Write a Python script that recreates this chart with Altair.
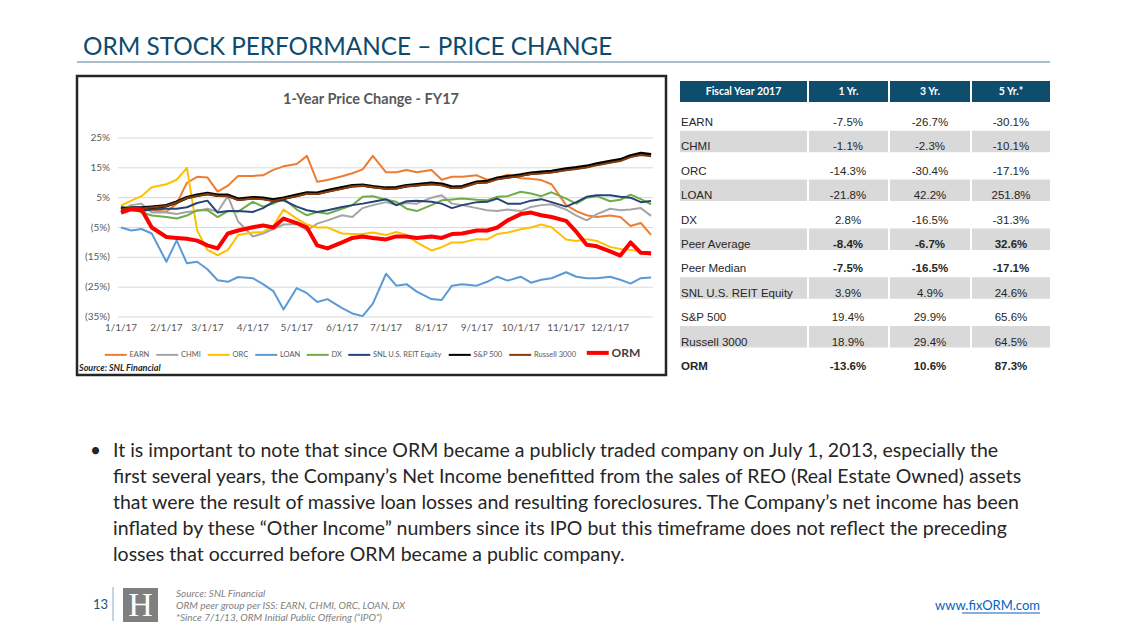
import altair as alt
import pandas as pd

# ---------------- data ----------------
dates = [f"2017-{m:02d}-{d:02d}" for m in range(1, 13) for d in (1, 8, 15, 22)] + ["2017-12-29"]

series_names = ["EARN", "CHMI", "ORC", "LOAN", "DX", "SNL U.S. REIT Equity", "S&P 500", "Russell 3000", "ORM"]
series_colors = ["#ED7D31", "#A5A5A5", "#FFC000", "#5B9BD5", "#70AD47", "#264478", "#000000", "#843C0C", "#FF0000"]

earn = [0.5, 1.2, 1.5, 0.8, 0.3, 3.0, 10.0, 12.0, 11.8, 7.0, 9.0, 12.3, 12.3, 12.5, 14.3, 15.5,
        16.3, 19.0, 10.3, 10.9, 12.2, 13.2, 14.5, 19.0, 13.5, 13.5, 14.3, 13.5, 14.3, 11.0, 12.0, 12.0,
        12.5, 11.0, 11.5, 12.7, 11.5, 11.3, 10.9, 9.5, 2.5, 0.5, -0.9, -1.5, -1.0, -1.5, -4.5, -3.5, -7.5]
chmi = [1.0, 2.5, 3.0, 0.0, 0.0, -0.5, 0.2, 0.5, 1.3, 0.3, 5.5, -3.0, -8.0, -7.0, -5.5, -4.0,
        -3.8, -6.0, -3.7, -2.6, -0.9, -1.5, 1.5, 2.5, 3.5, 2.5, 3.2, 3.0, 5.0, 5.8, 3.0, 2.5,
        1.5, 0.8, 0.5, 1.0, 0.5, 1.9, 2.5, 2.8, 1.0, -1.0, -2.6, -0.5, 1.3, 0.8, 1.0, 1.5, -1.1]
orc = [2.3, 4.0, 5.5, 8.5, 9.5, 11.0, 15.0, -6.0, -12.5, -14.3, -12.5, -7.5, -6.7, -6.5, -4.5, 1.0,
       -2.0, -4.0, -5.0, -5.0, -7.0, -7.2, -7.2, -6.7, -7.5, -6.5, -7.5, -10.0, -12.7, -11.6, -10.0, -10.0,
       -8.9, -9.0, -7.2, -6.7, -5.6, -5.0, -4.0, -4.9, -9.0, -9.5, -8.9, -9.5, -11.5, -12.2, -12.5, -13.0, -14.3]
loan = [-5.0, -6.0, -5.5, -7.0, -16.5, -9.3, -17.0, -16.5, -19.0, -22.7, -23.2, -21.6, -22.0, -24.0, -26.3, -32.5,
        -25.3, -27.0, -30.0, -29.0, -32.0, -33.8, -34.7, -30.5, -20.5, -24.5, -24.0, -26.5, -29.0, -29.3, -24.5, -24.0,
        -24.5, -23.2, -21.5, -22.8, -21.5, -23.5, -22.5, -22.0, -20.0, -21.5, -22.0, -22.0, -21.5, -22.5, -23.8, -22.0, -21.8]
dx = [2.0, 1.5, 0.0, -1.0, -1.5, -2.0, -1.0, 0.8, 0.8, -1.5, 0.5, 0.3, 3.6, 2.0, 3.0, 4.7,
      1.0, -0.9, 0.2, -0.4, 1.3, 2.5, 5.3, 5.5, 4.3, 3.6, 1.3, 0.5, 2.5, 4.1, 4.4, 4.7,
      4.3, 4.1, 5.3, 5.5, 7.0, 6.4, 5.5, 6.8, 4.7, 3.0, 5.0, 5.5, 3.8, 4.3, 6.0, 4.5, 2.8]
snl = [1.9, 0.8, 0.5, 1.0, 1.3, 1.3, 1.8, 3.2, 4.0, 0.0, 0.5, 0.5, 0.2, 1.5, 3.6, 4.1,
       2.0, 0.8, 0.2, 0.8, 1.9, 2.5, 3.0, 3.6, 4.5, 2.5, 3.8, 4.0, 3.6, 3.0, 1.5, 2.5,
       3.5, 3.6, 4.7, 3.0, 3.0, 4.0, 4.5, 3.5, 2.0, 3.5, 5.3, 5.8, 5.8, 5.3, 5.0, 3.5, 3.9]
sp500 = [1.0, 1.5, 1.5, 1.8, 2.3, 3.5, 5.0, 5.8, 6.4, 5.8, 5.8, 4.5, 5.0, 4.8, 4.2, 4.8,
         5.8, 6.6, 6.5, 7.3, 8.3, 9.0, 9.2, 8.7, 8.2, 8.3, 9.0, 9.3, 9.8, 9.5, 8.5, 8.7,
         10.2, 10.4, 11.5, 12.0, 12.6, 13.2, 13.5, 13.8, 14.6, 15.0, 15.5, 16.3, 17.1, 17.7, 19.0, 19.8, 19.4]
russell = [1.0, 1.6, 1.4, 1.7, 2.2, 3.4, 4.9, 5.6, 6.2, 5.6, 5.5, 4.2, 4.7, 4.5, 3.9, 4.6,
           5.5, 6.3, 6.2, 7.0, 8.0, 8.8, 9.0, 8.5, 8.0, 8.1, 8.8, 9.1, 9.5, 9.2, 8.2, 8.4,
           9.9, 10.1, 11.2, 11.7, 12.3, 12.9, 13.1, 13.4, 14.2, 14.6, 15.1, 15.9, 16.7, 17.3, 18.6, 19.3, 18.9]
orm = [0.0, 1.2, 1.0, -5.0, -8.2, -8.5, -8.8, -9.4, -11.0, -12.0, -7.0, -6.0, -4.9, -4.3, -5.0, -2.0,
       -3.5, -5.0, -11.0, -12.0, -10.0, -8.5, -8.0, -8.5, -9.0, -8.0, -8.0, -8.5, -8.0, -8.5, -7.2, -7.0,
       -6.0, -6.0, -5.0, -2.6, -0.5, 0.0, -0.9, -1.5, -2.8, -6.5, -10.8, -11.3, -13.0, -14.4, -10.0, -13.5, -13.6]

y_tick_values = [25, 15, 5, -5, -15, -25, -35]
y_tick_labels = ["25%", "15%", "5%", "(5%)", "(15%)", "(25%)", "(35%)"]
x_tick_dates = [f"2017-{m:02d}-01" for m in range(1, 13)]
x_tick_labels = [f"{m}/1/17" for m in range(1, 13)]

table_labels = ["EARN", "CHMI", "ORC", "LOAN", "DX", "Peer Average", "Peer Median",
                "SNL U.S. REIT Equity", "S&P 500", "Russell 3000", "ORM"]
yr1 = ["-7.5%", "-1.1%", "-14.3%", "-21.8%", "2.8%", "-8.4%", "-7.5%", "3.9%", "19.4%", "18.9%", "-13.6%"]
yr3 = ["-26.7%", "-2.3%", "-30.4%", "42.2%", "-16.5%", "-6.7%", "-16.5%", "4.9%", "29.9%", "29.4%", "10.6%"]
yr5 = ["-30.1%", "-10.1%", "-17.1%", "251.8%", "-31.3%", "32.6%", "-17.1%", "24.6%", "65.6%", "64.5%", "87.3%"]
table_headers = ["Fiscal Year 2017", "1 Yr.", "3 Yr.", "5 Yr.*"]

bullet_lines = [
    "It is important to note that since ORM became a publicly traded company on July 1, 2013, especially the",
    "first several years, the Company\u2019s Net Income benefitted from the sales of REO (Real Estate Owned) assets",
    "that were the result of massive loan losses and resulting foreclosures. The Company\u2019s net income has been",
    "inflated by these \u201cOther Income\u201d numbers since its IPO but this timeframe does not reflect the preceding",
    "losses that occurred before ORM became a public company.",
]
footer_notes = [
    "Source: SNL Financial",
    "ORM peer group per ISS: EARN, CHMI, ORC, LOAN, DX",
    "*Since 7/1/13, ORM Initial Public Offering (\u201cIPO\u201d)",
]

# ---------------- frames ----------------
all_values = [earn, chmi, orc, loan, dx, snl, sp500, russell, orm]
rows = []
for name, vals in zip(series_names, all_values):
    for d, v in zip(dates, vals):
        rows.append({"series": name, "date": d, "value": v})
lines_df = pd.DataFrame(rows)

SANS = "Lato"
ARIAL = "Liberation Sans"

x_scale = alt.Scale(domain=[alt.DateTime(year=2017, month=1, date=1, utc=True),
                            alt.DateTime(year=2017, month=12, date=31, utc=True)],
                    range=[121, 654], nice=False)
y_scale = alt.Scale(domain=[-35, 25], range=[317, 138], nice=False, zero=False)

legend = alt.Legend(
    orient="none", legendX=112, legendY=349, direction="horizontal", title=None,
    symbolType="stroke", symbolSize=484,
    symbolStrokeWidth={"expr": "datum.value == 'ORM' ? 4 : 2"},
    labelFont=SANS,
    labelFontSize={"expr": "datum.value == 'ORM' ? 12 : 7.5"},
    labelFontWeight={"expr": "datum.value == 'ORM' ? 'bold' : 'normal'"},
    labelColor={"expr": "datum.value == 'ORM' ? '#404040' : '#595959'"},
    labelOffset=10, columnPadding=1.5, padding=0, labelLimit=200,
)
color_enc = alt.Color("series:N", scale=alt.Scale(domain=series_names, range=series_colors), legend=legend)


def line_layer(names, width):
    return alt.Chart(lines_df).transform_filter(
        alt.FieldOneOfPredicate(field="series", oneOf=names)
    ).mark_line(strokeWidth=width, strokeJoin="round").encode(
        x=alt.X("date:T", scale=x_scale, axis=None),
        y=alt.Y("value:Q", scale=y_scale, axis=None),
        color=color_enc,
        detail="series:N",
    )


def static_text(s, x, y, size, color, font=SANS, weight="normal", style="normal", align="left"):
    return alt.Chart(pd.DataFrame({"label": [s]})).mark_text(
        font=font, fontSize=size, color=color, fontWeight=weight, fontStyle=style,
        align=align, baseline="middle",
    ).encode(text="label:N", x=alt.value(x), y=alt.value(y))


def box(x, x2, y, y2, **kw):
    return alt.Chart(pd.DataFrame({"k": [0]})).mark_rect(**kw).encode(
        x=alt.value(x), x2=alt.value(x2), y=alt.value(y), y2=alt.value(y2))


def hline(x, x2, y, color, w):
    return alt.Chart(pd.DataFrame({"k": [0]})).mark_rule(color=color, strokeWidth=w).encode(
        x=alt.value(x), x2=alt.value(x2), y=alt.value(y))


def vline(x, y, y2, color, w):
    return alt.Chart(pd.DataFrame({"k": [0]})).mark_rule(color=color, strokeWidth=w).encode(
        x=alt.value(x), y=alt.value(y), y2=alt.value(y2))


layers = []

# slide title
layers.append(static_text("ORM STOCK PERFORMANCE \u2013 PRICE CHANGE", 83, 48, 24.3, "#0E4A6E"))
layers.append(hline(77, 1050, 62, "#8EA9BB", 1.5))

# chart frame
layers.append(box(77, 666, 76, 375, fill="white", stroke="#262626", strokeWidth=2.5))
layers.append(static_text("1-Year Price Change - FY17", 371, 100, 14.5, "#595959", weight="bold", align="center"))

# gridlines & axis labels
ytick_df = pd.DataFrame({"v": y_tick_values, "lab": y_tick_labels})
layers.append(alt.Chart(ytick_df).mark_rule(color="#D9D9D9", strokeWidth=1).encode(
    y=alt.Y("v:Q", scale=y_scale, axis=None), x=alt.value(118), x2=alt.value(653)))
layers.append(alt.Chart(ytick_df).mark_text(font=SANS, fontSize=10, color="#595959", align="right").encode(
    y=alt.Y("v:Q", scale=y_scale, axis=None), x=alt.value(110), text="lab:N"))
xtick_df = pd.DataFrame({"d": x_tick_dates, "lab": x_tick_labels})
layers.append(alt.Chart(xtick_df).mark_text(font=SANS, fontSize=10, color="#595959", align="center").encode(
    x=alt.X("d:T", scale=x_scale, axis=None), y=alt.value(328), text="lab:N"))

# lines
layers.append(line_layer(["EARN", "CHMI", "ORC", "LOAN", "DX", "SNL U.S. REIT Equity"], 2))
layers.append(line_layer(["S&P 500"], 3.5))
layers.append(line_layer(["Russell 3000"], 2))
layers.append(line_layer(["ORM"], 4))

layers.append(static_text("Source: SNL Financial", 79, 368, 9, "#262626", style="italic", weight="bold"))

# ---------------- table ----------------
tdf = pd.DataFrame({"row": list(range(len(table_labels))), "label": table_labels,
                    "yr1": yr1, "yr3": yr3, "yr5": yr5})
row_scale = alt.Scale(domain=[0, 10], range=[123, 367], nice=False, zero=False)
col_spans = [(680, 807), (809, 888), (890, 970), (972, 1050)]
header_fill = "#0E4D6C"
for (cx0, cx1), h in zip(col_spans, table_headers):
    layers.append(box(cx0, cx1, 81, 102, fill=header_fill))
    layers.append(static_text(h, (cx0 + cx1) / 2, 91.5, 10.5, "white", weight="bold", align="center"))
for (cx0, cx1) in col_spans:
    layers.append(alt.Chart(tdf).transform_filter("datum.row % 2 == 1").transform_calculate(
        top="datum.row - 0.68", bot="datum.row + 0.2"
    ).mark_rect(color="#D9D9D9").encode(
        y=alt.Y("top:Q", scale=row_scale, axis=None), y2="bot:Q",
        x=alt.value(cx0), x2=alt.value(cx1)))

bold_value_rows = "datum.row == 5 || datum.row == 6 || datum.row == 10"
for is_bold in (False, True):
    flt = "datum.row == 10" if is_bold else "datum.row != 10"
    layers.append(alt.Chart(tdf).transform_filter(flt).mark_text(
        font=ARIAL, fontSize=11.5, color="#262626", align="left",
        fontWeight="bold" if is_bold else "normal").encode(
        y=alt.Y("row:Q", scale=row_scale, axis=None), x=alt.value(681), text="label:N"))
for col, cx in (("yr1", 848), ("yr3", 930), ("yr5", 1011)):
    for is_bold in (False, True):
        flt = bold_value_rows if is_bold else f"!({bold_value_rows})"
        layers.append(alt.Chart(tdf).transform_filter(flt).mark_text(
            font=ARIAL, fontSize=11.5, color="#262626", align="center",
            fontWeight="bold" if is_bold else "normal").encode(
            y=alt.Y("row:Q", scale=row_scale, axis=None), x=alt.value(cx), text=f"{col}:N"))

# ---------------- bullet paragraph ----------------
layers.append(static_text("\u2022", 90, 451, 19, "#262626"))
para = pd.DataFrame({"line": list(range(len(bullet_lines))), "text": bullet_lines})
layers.append(alt.Chart(para).mark_text(font=SANS, fontSize=19.5, color="#262626", align="left").encode(
    y=alt.Y("line:Q", scale=alt.Scale(domain=[0, 4], range=[451, 555], nice=False, zero=False), axis=None),
    x=alt.value(113), text="text:N"))

# ---------------- footer ----------------
layers.append(static_text("13", 93, 605, 13, "#1F4E79"))
layers.append(vline(113, 587, 621, "#8EA9BB", 1))
layers.append(box(123, 158, 588, 622, fill="#7F7F7F"))
layers.append(static_text("H", 140.5, 606, 34, "white", font="Liberation Serif", align="center"))
notes = pd.DataFrame({"line": [0, 1, 2], "text": footer_notes})
layers.append(alt.Chart(notes).mark_text(font=SANS, fontSize=10, color="#7F7F7F", align="left",
                                         fontStyle="italic").encode(
    y=alt.Y("line:Q", scale=alt.Scale(domain=[0, 2], range=[594, 618], nice=False, zero=False), axis=None),
    x=alt.value(176), text="text:N"))
layers.append(static_text("www.fixORM.com", 1040, 606, 13, "#0563C1", align="right"))
layers.append(hline(962, 1040, 613, "#0563C1", 1))

chart = alt.layer(*layers).resolve_scale(x="independent", y="independent").properties(
    width=1129, height=635, autosize="none", padding=0, background="white"
).configure_view(stroke=None)

chart.save("out.html", embed_options={"renderer": "svg", "actions": False})
